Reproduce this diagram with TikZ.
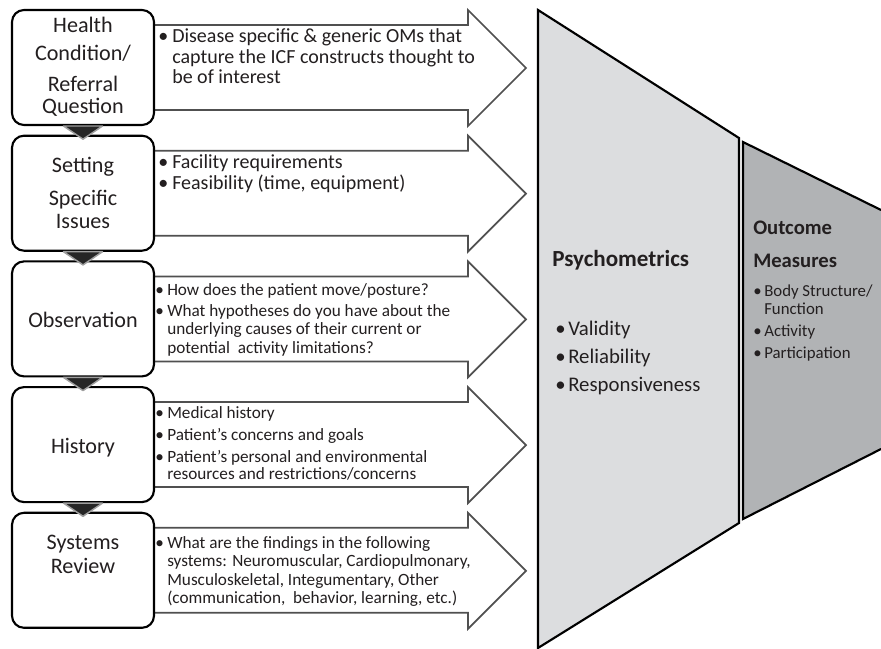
\documentclass[tikz,border=0pt]{standalone}
\usepackage{fontspec}
\setmainfont{Carlito}
\usetikzlibrary{calc}
\definecolor{psyfill}{HTML}{DCDDDF}
\definecolor{omfill}{HTML}{B1B3B5}
\definecolor{arrline}{HTML}{505050}
\definecolor{txt}{HTML}{231F20}
\newcommand\szBox{\fontsize{16.6}{20}\selectfont}
\newcommand\szArrA{\fontsize{15}{18}\selectfont}
\newcommand\szArrB{\fontsize{12.9}{15}\selectfont}
\newcommand\szPsyHead{\fontsize{17.3}{20}\selectfont\bfseries}
\newcommand\szPsy{\fontsize{15.6}{18}\selectfont}
\newcommand\szOMHead{\fontsize{15.5}{18}\selectfont\bfseries}
\newcommand\szOM{\fontsize{12.6}{15}\selectfont}
\newcommand\blockarrow[1]{\path[arrowshape] (148,#1+15) -- (468,#1+15) -- (468,#1) -- (526,#1+58) -- (468,#1+116) -- (468,#1+100) -- (148,#1+100);}
\begin{document}
\begin{tikzpicture}[x=0.75pt,y=-0.75pt,
  stepbox/.style={draw=black, line width=1.6pt, fill=white, rounded corners=9pt,
    minimum width=106.5pt, minimum height=86.25pt, inner sep=0pt, outer sep=0pt},
  arrowshape/.style={draw=arrline, line width=1.3pt, fill=white, line join=miter},
  conn/.style={fill=black!85, draw=gray!75, line width=1.1pt, line join=round},
  txtline/.style={anchor=base west, inner sep=0pt, text=txt},
  ctrline/.style={anchor=base, inner sep=0pt, text=txt},
  trapez/.style={draw=black, line width=1.6pt, line join=miter}]
\useasboundingbox (0,0) rectangle (881,649);
% block arrows
\blockarrow{10}
\blockarrow{135.7}
\blockarrow{261.4}
\blockarrow{387.1}
\blockarrow{512.8}
% boxes
\node[stepbox] (b1) at (83,67.5) {};
\node[stepbox] (b2) at (83,193.2) {};
\node[stepbox] (b3) at (83,318.9) {};
\node[stepbox] (b4) at (83,444.6) {};
\node[stepbox] (b5) at (83,570.3) {};
% connectors
\path[conn] ($(b1.south)+(-19.5,1)$) -- ($(b1.south)+(19.5,1)$) -- ($(b2.north)+(0,3.5)$) -- cycle;
\path[conn] ($(b2.south)+(-19.5,1)$) -- ($(b2.south)+(19.5,1)$) -- ($(b3.north)+(0,3.5)$) -- cycle;
\path[conn] ($(b3.south)+(-19.5,1)$) -- ($(b3.south)+(19.5,1)$) -- ($(b4.north)+(0,3.5)$) -- cycle;
\path[conn] ($(b4.south)+(-19.5,1)$) -- ($(b4.south)+(19.5,1)$) -- ($(b5.north)+(0,3.5)$) -- cycle;
% box texts
\node[ctrline] (h1) at (83,33) {\szBox Health};
\node[ctrline] (h2) at (83,61) {\szBox Condition/};
\node[ctrline] (h3) at (83,92) {\szBox Referral};
\node[ctrline] (h4) at (83,114) {\szBox Question};
\node[ctrline] (s1) at (83,172) {\szBox Setting};
\node[ctrline] (s2) at (83,205) {\szBox Specific};
\node[ctrline] (s3) at (83,228) {\szBox Issues};
\node[ctrline] (o1) at (83,327) {\szBox Observation};
\node[ctrline] (hi1) at (83,453) {\szBox History};
\node[ctrline] (sr1) at (83,549) {\szBox Systems};
\node[ctrline] (sr2) at (83,573) {\szBox Review};
% arrow 1 text
\node[txtline] (p1b) at (158,43) {\szArrA •};
\node[txtline] (p1a) at (172,43) {\szArrA Disease specific \& generic OMs that};
\node[txtline] (p1c) at (172,64) {\szArrA capture the ICF constructs thought to};
\node[txtline] (p1d) at (172,84) {\szArrA be of interest};
% arrow 2 text
\node[txtline] (p2b) at (158,168.3) {\szArrA •};
\node[txtline] (p2a) at (172,168.3) {\szArrA Facility requirements};
\node[txtline] (p2d) at (158,190) {\szArrA •};
\node[txtline] (p2c) at (172,190) {\szArrA Feasibility (time, equipment)};
% arrow 3 text
\node[txtline] (p3b) at (155,295) {\szArrB •};
\node[txtline] (p3a) at (167,295) {\szArrB How does the patient move/posture?};
\node[txtline] (p3d) at (155,316) {\szArrB •};
\node[txtline] (p3c) at (167,316) {\szArrB What hypotheses do you have about the};
\node[txtline] (p3e) at (167,334.7) {\szArrB underlying causes of their current or};
\node[txtline] (p3f) at (167,353.7) {\szArrB potential\ \ activity limitations?};
% arrow 4 text
\node[txtline] (p4b) at (155,418) {\szArrB •};
\node[txtline] (p4a) at (167,418) {\szArrB Medical history};
\node[txtline] (p4d) at (155,440) {\szArrB •};
\node[txtline] (p4c) at (167,440) {\szArrB Patient’s concerns and goals};
\node[txtline] (p4f) at (155,462) {\szArrB •};
\node[txtline] (p4e) at (167,462) {\szArrB Patient's personal and environmental};
\node[txtline] (p4g) at (167,479.5) {\szArrB resources and restrictions/concerns};
% arrow 5 text
\node[txtline] (p5b) at (155,548) {\szArrB •};
\node[txtline] (p5a) at (167,548) {\szArrB What are the findings in the following};
\node[txtline] (p5c) at (167,566.5) {\szArrB systems: Neuromuscular, Cardiopulmonary,};
\node[txtline] (p5d) at (167,585) {\szArrB Musculoskeletal, Integumentary, Other};
\node[txtline] (p5e) at (167,603.5) {\szArrB (communication,\ \ behavior, learning, etc.)};
% trapezoids
\path[trapez, fill=psyfill] (538,10) -- (739,138) -- (739,523) -- (538,648) -- cycle;
\fill[omfill] (743,142) -- (881,210) -- (881,449) -- (743,519) -- cycle;
\draw[trapez] (881,210) -- (743,142) -- (743,519) -- (881,449);
% psychometrics
\node[txtline] (psy) at (552,266) {\szPsyHead Psychometrics};
\node[txtline] (v0) at (555,335) {\szPsy •};
\node[txtline] (v1) at (568,335) {\szPsy Validity};
\node[txtline] (r0) at (555,363) {\szPsy •};
\node[txtline] (r1) at (568,363) {\szPsy Reliability};
\node[txtline] (re0) at (555,391) {\szPsy •};
\node[txtline] (re1) at (568,391) {\szPsy Responsiveness};
% outcome measures
\node[txtline] (om1) at (753,234) {\szOMHead Outcome};
\node[txtline] (om2) at (753,267.5) {\szOMHead Measures};
\node[txtline] (bs0) at (753,296) {\szOM •};
\node[txtline] (bs1) at (764,296) {\szOM Body Structure/};
\node[txtline] (bs2) at (764,314) {\szOM Function};
\node[txtline] (ac0) at (753,336) {\szOM •};
\node[txtline] (ac1) at (764,336) {\szOM Activity};
\node[txtline] (pa0) at (753,358) {\szOM •};
\node[txtline] (pa1) at (764,358) {\szOM Participation};
\end{tikzpicture}
\end{document}
